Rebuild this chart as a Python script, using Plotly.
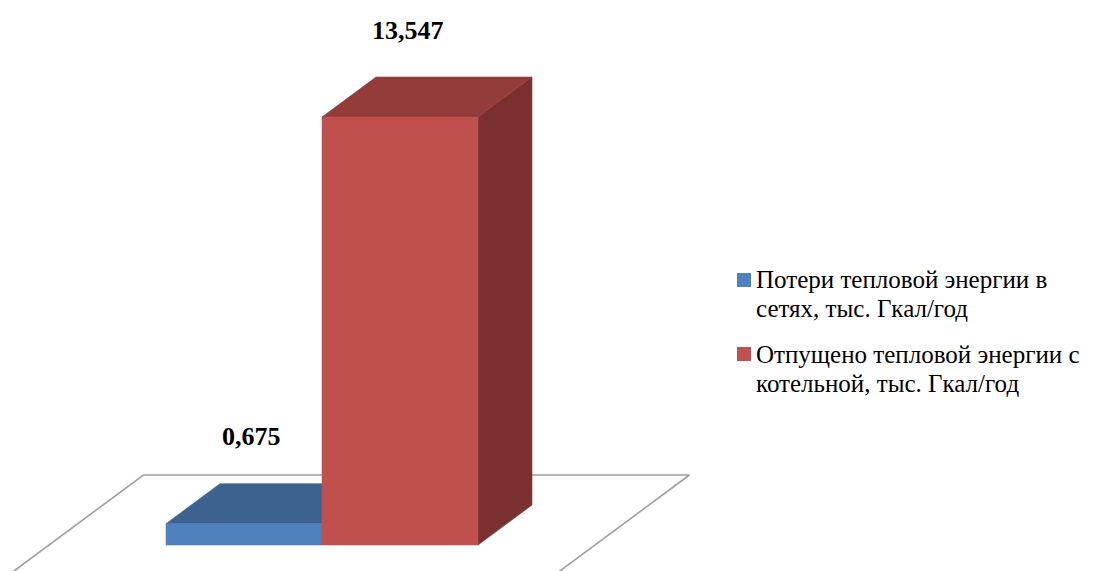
import plotly.graph_objects as go

# ---------------- data ----------------
legend_lines = [
    ["Потери тепловой энергии в", "сетях, тыс. Гкал/год"],
    ["Отпущено тепловой энергии с", "котельной, тыс. Гкал/год"],
]
values = [0.675, 13.547]
value_labels = ["0,675", "13,547"]
front_colors = ["#4F81BD", "#C0504D"]
top_colors = ["#3C6290", "#943C3A"]
side_colors = ["#355782", "#7A302F"]

# ---------------- geometry (style) ----------------
W, H = 1102, 571
OFF = 8                # page body margin in the browser
BAR_W = 1.0            # bar width in x units
DX = 0.346             # depth offset, x units per depth unit
DY = 1.266             # depth offset, y units per depth unit
FLOOR_HALF = 1.75      # half width of the floor around the category centre
FLOOR_D0, FLOOR_D1 = -0.75, 1.75
PX_PER_X = 156.0
PX_PER_Y = 31.59
X0_PX = 244 - OFF      # pixel of x = 0
Y0_PX = 545 - OFF      # pixel of y = 0
X_RANGE = [-X0_PX / PX_PER_X, (W - X0_PX) / PX_PER_X]
Y_RANGE = [-(H - Y0_PX) / PX_PER_Y, Y0_PX / PX_PER_Y]

fig = go.Figure()

def poly(xs, ys, color, lw=0.6):
    fig.add_trace(go.Scatter(
        x=list(xs) + [xs[0]], y=list(ys) + [ys[0]],
        mode="lines", fill="toself", fillcolor=color,
        line=dict(color=color, width=lw),
        hoverinfo="skip", showlegend=False))

# floor
centre = (len(values) - 1) / 2.0
fl, fr = centre - FLOOR_HALF, centre + FLOOR_HALF
fx = [fl + FLOOR_D0 * DX, fl + FLOOR_D1 * DX, fr + FLOOR_D1 * DX, fr + FLOOR_D0 * DX]
fy = [FLOOR_D0 * DY, FLOOR_D1 * DY, FLOOR_D1 * DY, FLOOR_D0 * DY]
fig.add_trace(go.Scatter(x=fx + [fx[0]], y=fy + [fy[0]], mode="lines",
                         line=dict(color="#A0A0A0", width=1.6),
                         hoverinfo="skip", showlegend=False))

# bars
for i, v in enumerate(values):
    x0, x1 = i - BAR_W / 2, i + BAR_W / 2
    poly([x1, x1 + DX, x1 + DX, x1], [0, DY, v + DY, v], side_colors[i])
    poly([x0, x1, x1 + DX, x0 + DX], [v, v, v + DY, v + DY], top_colors[i])
    poly([x0, x1, x1, x0], [0, 0, v, v], front_colors[i])
    fig.add_annotation(x=i + 0.05, y=v + 2.75, text="<b>%s</b>" % value_labels[i],
                       showarrow=False, xanchor="center", yanchor="middle",
                       font=dict(family="Liberation Serif", size=26, color="#000000"))

# legend (manual)
leg_sq_x = [737 - OFF, 751 - OFF]
leg_sq_y = [(273 - OFF, 287 - OFF), (347 - OFF, 361 - OFF)]
leg_text_y = [(279 - OFF, 308 - OFF), (354 - OFF, 383 - OFF)]
for i in range(len(values)):
    y0, y1 = leg_sq_y[i]
    fig.add_shape(type="rect", xref="paper", yref="paper",
                  x0=leg_sq_x[0] / W, x1=leg_sq_x[1] / W,
                  y0=1 - y1 / H, y1=1 - y0 / H,
                  fillcolor=front_colors[i], line=dict(width=0))
    for line, ly in zip(legend_lines[i], leg_text_y[i]):
        fig.add_annotation(xref="paper", yref="paper", x=(754 - OFF) / W, y=1 - ly / H,
                           text=line, showarrow=False, xanchor="left", yanchor="middle",
                           font=dict(family="Liberation Serif", size=25, color="#000000"))

fig.update_layout(
    width=W, height=H,
    margin=dict(l=0, r=0, t=0, b=0),
    paper_bgcolor="white", plot_bgcolor="white",
    xaxis=dict(range=X_RANGE, visible=False, fixedrange=True),
    yaxis=dict(range=Y_RANGE, visible=False, fixedrange=True),
    showlegend=False,
)

fig.write_html("out.html")
